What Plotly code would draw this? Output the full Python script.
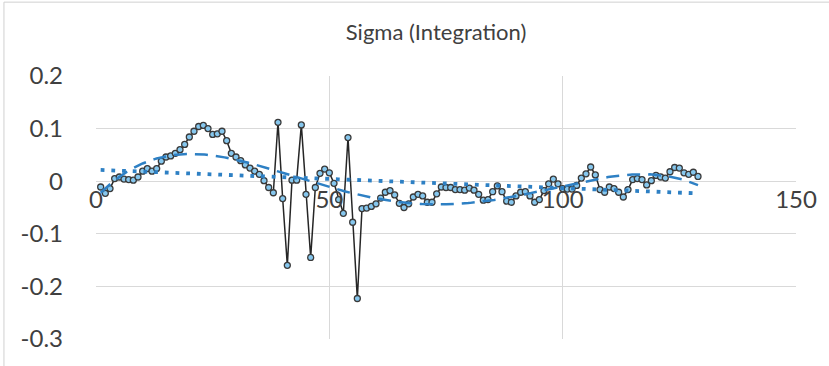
import numpy as np
import plotly.graph_objects as go

# Sample index and measured sigma values
x_vals = list(range(1, 130))
sigma = [
    -0.011, -0.023, -0.014, 0.005, 0.008, 0.004, 0.003, 0.002, 0.008, 0.019,
    0.024, 0.019, 0.024, 0.038, 0.046, 0.048, 0.053, 0.060, 0.070, 0.084,
    0.095, 0.104, 0.106, 0.100, 0.089, 0.090, 0.095, 0.077, 0.053, 0.046,
    0.039, 0.031, 0.025, 0.019, 0.013, 0.001, -0.012, -0.022, 0.112, -0.033,
    -0.160, 0.002, 0.002, 0.107, -0.025, -0.145, -0.012, 0.015, 0.023, 0.016,
    -0.004, -0.035, -0.061, 0.083, -0.078, -0.223, -0.052, -0.051, -0.048, -0.043,
    -0.032, -0.021, -0.018, -0.026, -0.042, -0.050, -0.043, -0.030, -0.025, -0.028,
    -0.040, -0.040, -0.024, -0.011, -0.012, -0.012, -0.016, -0.016, -0.017, -0.013,
    -0.017, -0.025, -0.036, -0.035, -0.020, -0.009, -0.020, -0.038, -0.040, -0.028,
    -0.021, -0.020, -0.028, -0.040, -0.035, -0.018, -0.005, 0.004, -0.005, -0.014,
    -0.015, -0.015, -0.008, 0.006, 0.014, 0.027, 0.012, -0.016, -0.021, -0.011,
    -0.014, -0.021, -0.030, -0.016, 0.003, 0.005, 0.003, -0.007, 0.001, 0.011,
    0.008, 0.006, 0.018, 0.026, 0.025, 0.016, 0.013, 0.017, 0.009,
]

x_ticks = [0, 50, 100, 150]
y_ticks = [-0.3, -0.2, -0.1, 0, 0.1, 0.2]
y_tick_text = ["-0.3", "-0.2", "-0.1", "0", "0.1", "0.2"]

xa = np.array(x_vals, dtype=float)
ya = np.array(sigma, dtype=float)

# Trendlines fitted over the sample range
xs = np.linspace(xa.min(), xa.max(), 300)
poly_fit = np.polyval(np.polyfit(xa, ya, 4), xs)
lin_fit = np.polyval(np.polyfit(xa, ya, 1), xs)

trend_color = "#2E80C4"
font_family = "Lato, 'Open Sans', sans-serif"

fig = go.Figure()
fig.add_trace(go.Scatter(
    x=x_vals, y=sigma, mode="lines+markers",
    line=dict(color="#262626", width=1.5),
    marker=dict(size=6, color="#86C7EE", line=dict(color="#3A3A3A", width=1.3)),
    showlegend=False, hoverinfo="x+y",
))
fig.add_trace(go.Scatter(
    x=xs, y=poly_fit, mode="lines",
    line=dict(color=trend_color, width=2.5, dash="13px,8px"),
    showlegend=False, hoverinfo="skip",
))
fig.add_trace(go.Scatter(
    x=xs, y=lin_fit, mode="lines",
    line=dict(color=trend_color, width=3.8, dash="3.8px,6.9px"),
    showlegend=False, hoverinfo="skip",
))

grid = "#D9D9D9"
fig.update_layout(
    width=829, height=366,
    margin=dict(l=96, r=26, t=76, b=27),
    paper_bgcolor="white", plot_bgcolor="white",
    font=dict(family=font_family, color="#404040"),
    title=dict(text="Sigma (Integration)", x=0.526, xref="container", xanchor="center",
               y=0.912, yref="container", yanchor="middle",
               font=dict(size=22, color="#404040", family=font_family)),
    xaxis=dict(range=[0, 150], tickvals=x_ticks, showgrid=True, gridcolor=grid, gridwidth=1,
               zeroline=False, showline=False, anchor="free", position=0.6,
               ticks="", tickfont=dict(size=24, color="#404040"), ticklabelstandoff=2),
    yaxis=dict(range=[-0.3, 0.2], tickvals=y_ticks, ticktext=y_tick_text,
               showgrid=True, gridcolor=grid, gridwidth=1, zeroline=False, showline=False,
               ticks="", tickfont=dict(size=24, color="#404040"), ticklabelstandoff=32),
    shapes=[
        dict(type="rect", xref="paper", yref="paper",
             x0=-0.1315, x1=1.06, y0=-0.12, y1=1.2808,
             line=dict(color="#D0D0D0", width=1), fillcolor="rgba(0,0,0,0)", layer="below"),
    ],
)

fig.write_html("out.html")
